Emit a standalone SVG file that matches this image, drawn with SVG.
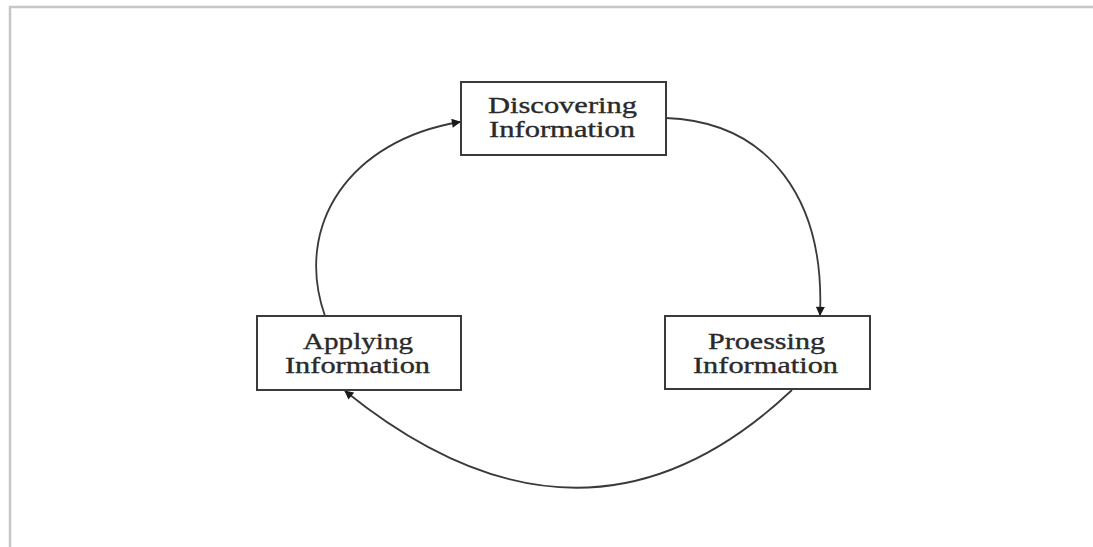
<svg xmlns="http://www.w3.org/2000/svg" width="1093" height="547" viewBox="0 0 1093 547">
  <style>
    .box { fill: #ffffff; stroke: #3a3a3a; stroke-width: 2; }
    .label { font-family: "Liberation Serif", "Times New Roman", serif; font-size: 23px; fill: #2a2a2a; stroke: #2a2a2a; stroke-width: 0.35; }
    .link { fill: none; stroke: #3a3a3a; stroke-width: 1.8; marker-end: url(#arrow); }
    .frame { stroke: #c6c6c6; stroke-width: 2.5; fill: none; }
  </style>
  <defs>
    <marker id="arrow" viewBox="0 0 10 10" refX="9" refY="5" markerWidth="10" markerHeight="9" markerUnits="userSpaceOnUse" orient="auto">
      <path d="M0,0 L10,5 L0,10 z" fill="#1a1a1a"/>
    </marker>
  </defs>
  <rect width="1093" height="547" fill="#ffffff"/>
  <!-- outer frame -->
  <path class="frame" d="M10,547 L10,7 L1093,7"/>

  <g id="connectors">
    <path class="link" d="M666,118 C770,122 825,200 820,315"/>
    <path class="link" d="M792,390 Q585,585 345,391"/>
    <path class="link" d="M325,316 C293,225 350,140 460,122"/>
  </g>

  <g id="discovering">
    <rect class="box" x="461" y="82" width="205" height="73"/>
    <text class="label" x="488" y="113" textLength="149" lengthAdjust="spacingAndGlyphs">Discovering</text>
    <text class="label" x="489" y="137" textLength="146" lengthAdjust="spacingAndGlyphs">Information</text>
  </g>

  <g id="processing">
    <rect class="box" x="665" y="316" width="205" height="73"/>
    <text class="label" x="708" y="349" textLength="117" lengthAdjust="spacingAndGlyphs">Proessing</text>
    <text class="label" x="693" y="373" textLength="145" lengthAdjust="spacingAndGlyphs">Information</text>
  </g>

  <g id="applying">
    <rect class="box" x="257" y="316" width="204" height="74"/>
    <text class="label" x="303" y="349" textLength="110" lengthAdjust="spacingAndGlyphs">Applying</text>
    <text class="label" x="285" y="373" textLength="145" lengthAdjust="spacingAndGlyphs">Information</text>
  </g>
</svg>
